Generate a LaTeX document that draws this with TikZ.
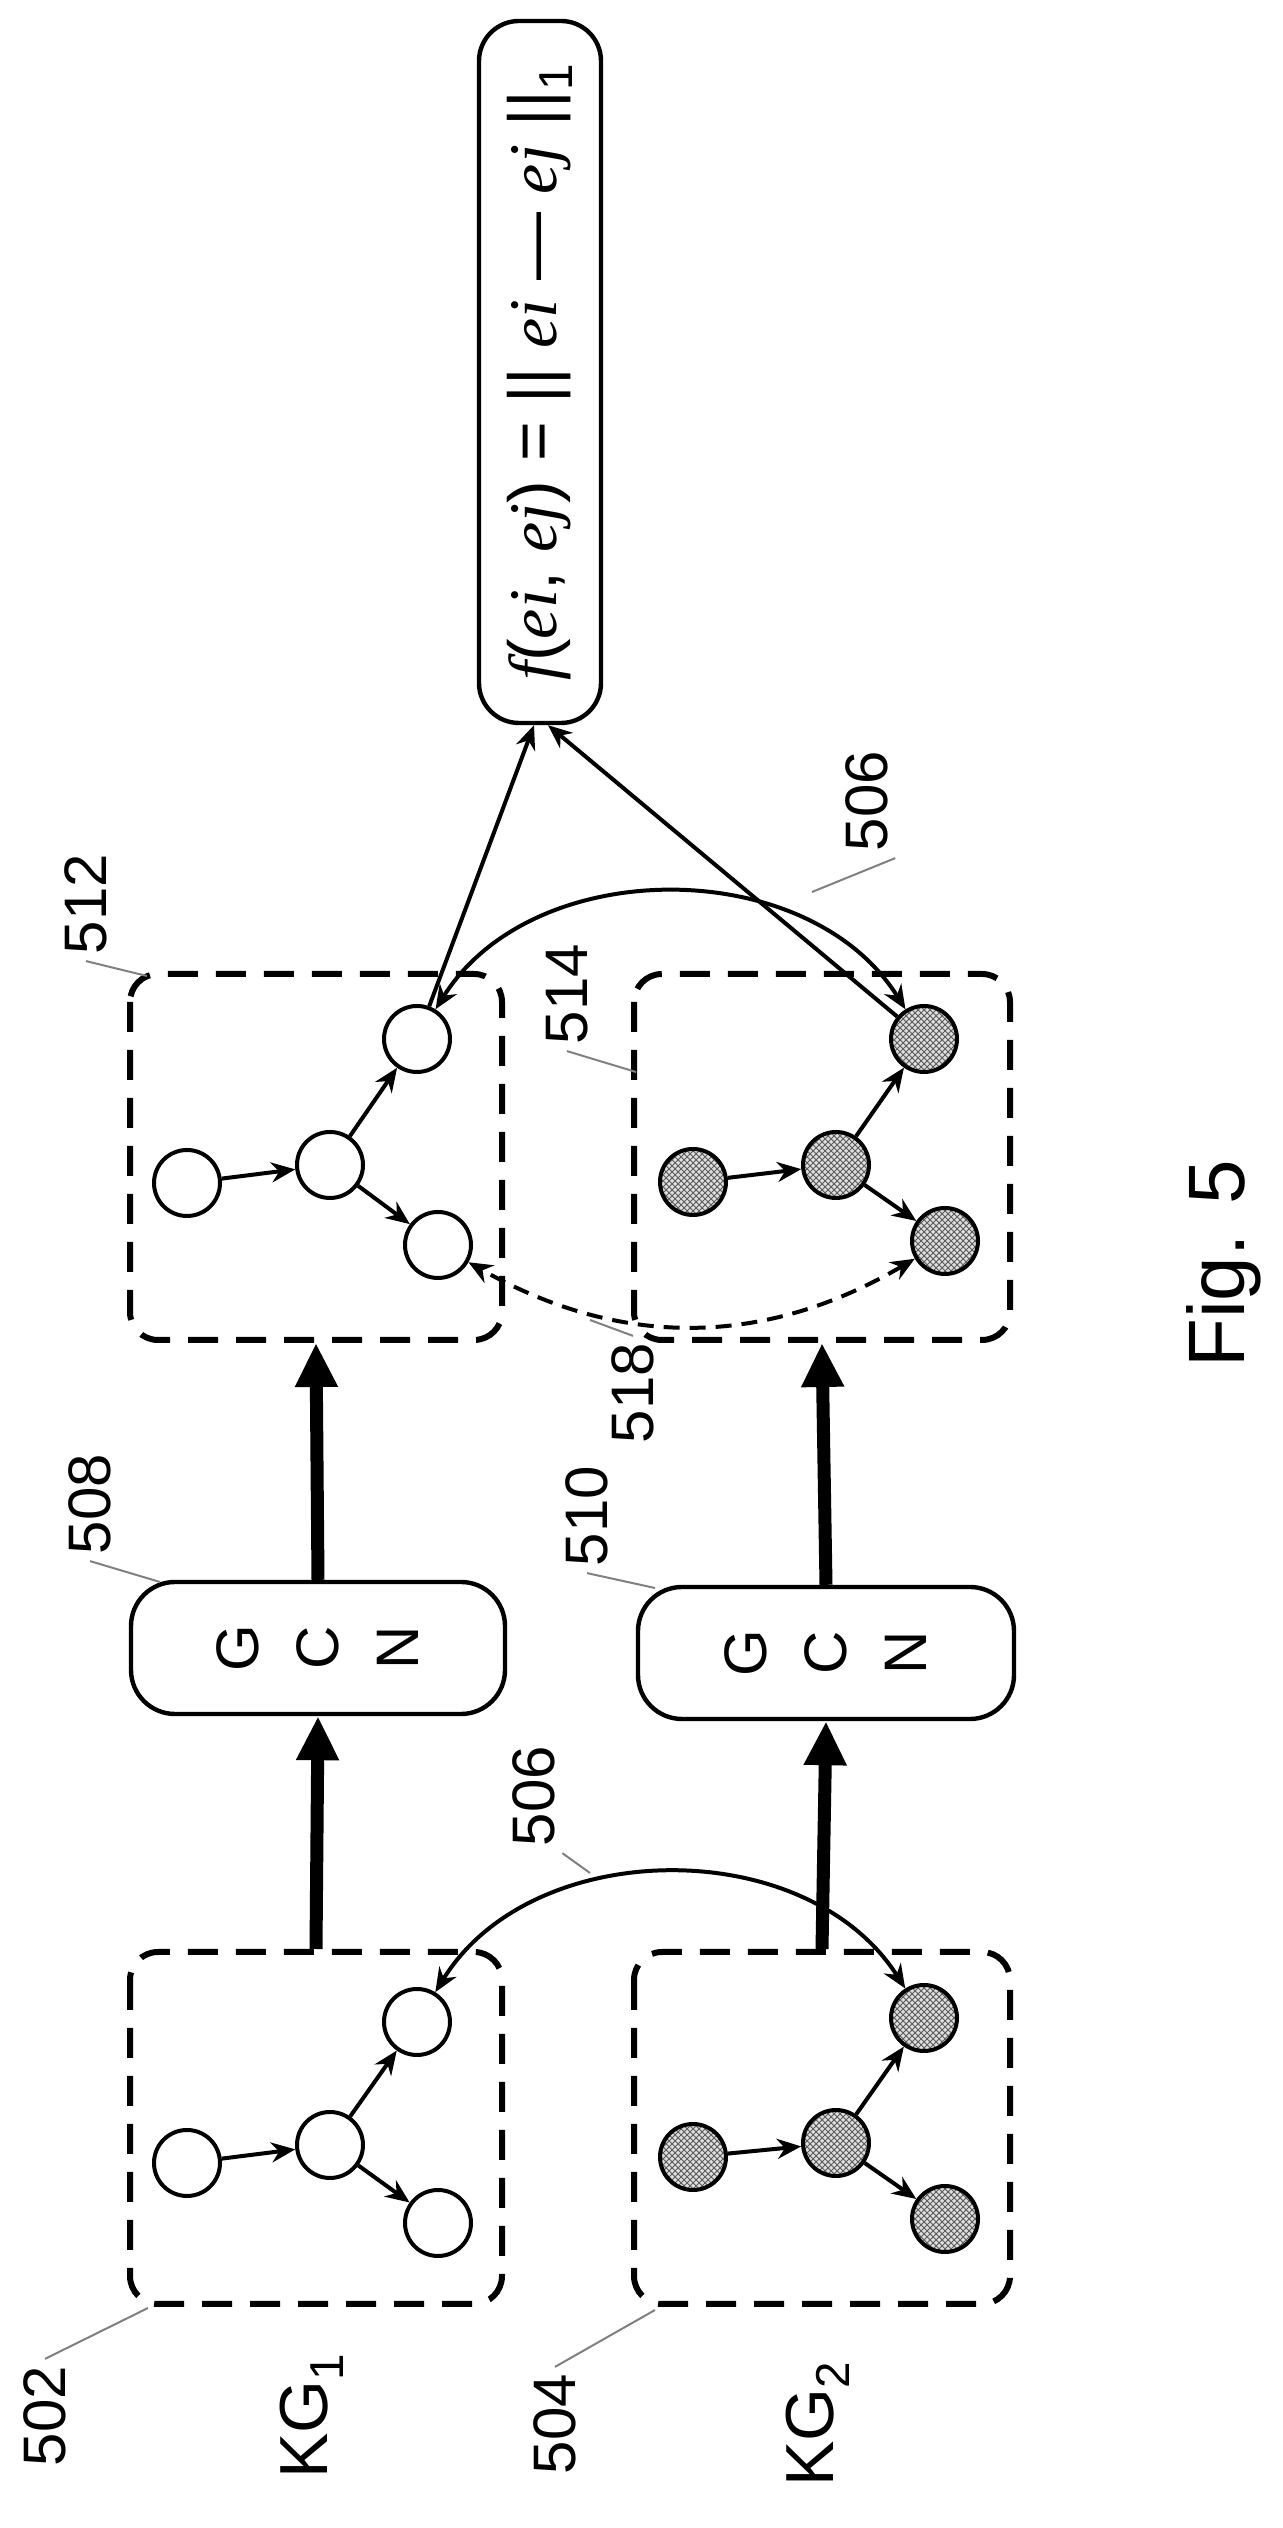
\documentclass[tikz,border=0pt]{standalone}
\usepackage{fontspec}
\setmainfont{Liberation Sans}
\newfontfamily\tms{Liberation Serif}
\newcommand{\vr}[1]{{\tms\itshape #1}}
\usetikzlibrary{arrows.meta,positioning,patterns}
\tikzset
{
    kgbox/.style = {rectangle, draw=black, dashed, dash pattern=on 15pt off 9pt, line width=3pt, rounded corners=14pt},
    gcnbox/.style = {rectangle, draw=black, line width=2.2pt, rounded corners=22pt, align=center, font=\fontsize{30}{40}\selectfont},
    ent/.style = {circle, draw=black, line width=2pt, minimum size=33pt, inner sep=0pt},
    entB/.style = {ent, preaction={fill=gray!25}, pattern=crosshatch, pattern color=gray!70!black},
    link/.style = {line width=2pt, -{Stealth[length=12pt,width=10pt]}},
    flow/.style = {line width=6.5pt, -{Triangle[length=22pt,width=20pt]}},
    lbl/.style = {font=\fontsize{30}{36}\selectfont},
    lead/.style = {gray, line width=1pt}
}
\begin{document}
\begin{tikzpicture}[x=0.5pt,y=0.5pt,rotate=90,transform shape]
	\useasboundingbox (0,0) rectangle (2528,-1282);
	% knowledge graph boxes
	\node (b502) [kgbox, minimum width=176pt, minimum height=186pt] at (400,-316) {};
	\node (b504) [kgbox, minimum width=176pt, minimum height=188pt] at (400,-822) {};
	\node (b512) [kgbox, minimum width=183pt, minimum height=186pt] at (1371,-316) {};
	\node (b514) [kgbox, minimum width=183pt, minimum height=188pt] at (1371,-822) {};
	\node (g508) [gcnbox, minimum width=66pt, minimum height=187pt] at (880,-318) {G\\C\\N};
	\node (g510) [gcnbox, minimum width=66pt, minimum height=188pt] at (875,-826) {G\\C\\N};
	\node (f) [gcnbox, rounded corners=20pt, minimum width=351pt, minimum height=61pt, font=\fontsize{34}{40}\selectfont] at (2156,-540)
		{\vr{f}(\vr{ei},\ \vr{ej}) = || \vr{ei} — \vr{ej} ||\textsubscript{1}};

	% entities
	\node (a1) [ent] at (365,-187) {};
	\node (a2) [ent] at (383,-330) {};
	\node (a3) [ent] at (506,-417) {};
	\node (a4) [ent] at (305,-438) {};
	\node (b1) [entB] at (371,-693) {};
	\node (b2) [entB] at (385,-836) {};
	\node (b3) [entB] at (510,-924) {};
	\node (b4) [entB] at (309,-945) {};
	\node (c1) [ent] at (1345,-187) {};
	\node (c2) [ent] at (1363,-330) {};
	\node (c3) [ent] at (1489,-417) {};
	\node (c4) [ent] at (1283,-438) {};
	\node (d1) [entB] at (1346,-693) {};
	\node (d2) [entB] at (1363,-836) {};
	\node (d3) [entB] at (1489,-924) {};
	\node (d4) [entB] at (1287,-945) {};
	\foreach \g in {a,b,c,d} {
		\draw [link] (\g1) -- (\g2);
		\draw [link] (\g2) -- (\g3);
		\draw [link] (\g2) -- (\g4);
	}

	% flow
	\draw [flow] (b502.east) -- (g508.west);
	\draw [flow] (g508.east) -- (b512.west);
	\draw [flow] (b504.east) -- (g510.west);
	\draw [flow] (g510.east) -- (b514.west);

	% alignment links
	\draw [link, <->, >={Stealth[length=12pt,width=10pt]}] (b3) to[bend right=58] (a3);
	\draw [link, <->, >={Stealth[length=12pt,width=10pt]}] (d3) to[bend right=58] (c3);
	\draw [link, <->, >={Stealth[length=12pt,width=10pt]}, dashed, dash pattern=on 8pt off 5pt] (d4) to[bend left=30] (c4);
	\draw [link] (c3) -- ([yshift=3pt]f.west);
	\draw [link] (d3) -- ([yshift=-4pt]f.west);

	% labels
	\node (l502) [lbl] at (112,-45) {502};
	\node (l504) [lbl] at (104,-555) {504};
	\node (kg1) [lbl, font=\fontsize{34}{40}\selectfont] at (112,-312) {KG\textsubscript{1}};
	\node (kg2) [lbl, font=\fontsize{34}{40}\selectfont] at (104,-818) {KG\textsubscript{2}};
	\node (l508) [lbl] at (1024,-90) {508};
	\node (l510) [lbl] at (1012,-587) {510};
	\node (l518) [lbl] at (1135,-633) {518};
	\node (l506a) [lbl] at (732,-534) {506};
	\node (l506b) [lbl] at (1727,-867) {506};
	\node (l512) [lbl] at (1624,-86) {512};
	\node (l514) [lbl] at (1534,-567) {514};
	\node (fig) [lbl, font=\fontsize{40}{48}\selectfont] at (1264,-1224) {Fig. 5};
	\coordinate (t502) at (220,-148);
	\coordinate (t504) at (218,-655);
	\coordinate (t508) at (946,-160);
	\coordinate (t510) at (940,-655);
	\coordinate (t518) at (1208,-590);
	\coordinate (t506a) at (655,-590);
	\coordinate (t506b) at (1636,-812);
	\coordinate (t512) at (1552,-147);
	\coordinate (t514) at (1456,-636);
	\draw [lead] (l502.east) -- (t502);
	\draw [lead] (l504.east) -- (t504);
	\draw [lead] (l508.west) -- (t508);
	\draw [lead] (l510.west) -- (t510);
	\draw [lead] (l518.east) -- (t518);
	\draw [lead] (l506a.south west) -- (t506a);
	\draw [lead] (l506b.south west) -- (t506b);
	\draw [lead] (l512.west) -- (t512);
	\draw [lead] (l514.west) -- (t514);
\end{tikzpicture}
\end{document}
